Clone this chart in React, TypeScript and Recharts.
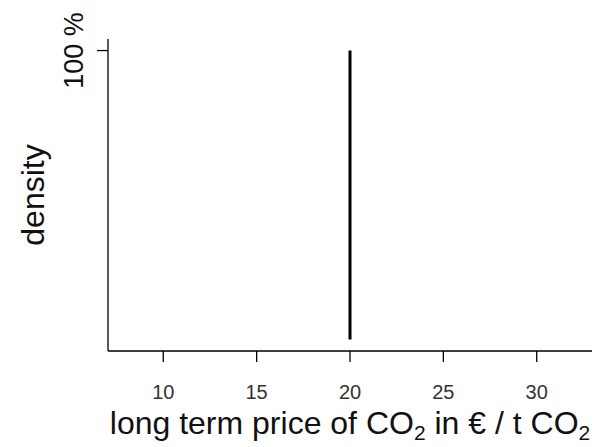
import { LineChart, Line, XAxis, YAxis } from 'recharts';

// price of CO2 (x) vs density (y): a single point mass at 20 EUR
const priceValues = [20, 20];
const densityValues = [0, 1];
const xTicks = [10, 15, 20, 25, 30];
const yTicks = [1];
const yTickLabels = ['100 %'];

const data = priceValues.map((p, i) => ({ price: p, density: densityValues[i] }));

const font = '"Liberation Sans", Arial, sans-serif';

const YTick = (props: any) => {
  const { x, y, index } = props;
  return (
    <text
      x={x - 12}
      y={y}
      transform={`rotate(-90, ${x - 12}, ${y})`}
      textAnchor="middle"
      fontFamily={font}
      fontSize={27}
      fill="#111"
    >
      {yTickLabels[index]}
    </text>
  );
};

const XTick = (props: any) => {
  const { x, y, payload } = props;
  return (
    <text x={x} y={y + 35} textAnchor="middle" fontFamily={font} fontSize={20} fill="#333">
      {payload.value}
    </text>
  );
};

const XLabel = (props: any) => {
  const vb = props.viewBox;
  const cx = vb.x + vb.width / 2;
  return (
    <text x={cx} y={434} textAnchor="middle" fontFamily={font} fontSize={32} fill="#111">
      long term price of CO<tspan fontSize={21} dy={6}>2</tspan>
      <tspan dy={-6}> in € / t CO</tspan>
      <tspan fontSize={21} dy={6}>2</tspan>
    </text>
  );
};

const YLabel = (props: any) => {
  const vb = props.viewBox;
  const cy = vb.y + vb.height / 2;
  return (
    <text
      x={44}
      y={cy}
      transform={`rotate(-90, 44, ${cy})`}
      textAnchor="middle"
      fontFamily={font}
      fontSize={32}
      fill="#111"
    >
      density
    </text>
  );
};

export default function App() {
  return (
    <div style={{ position: 'absolute', left: 0, top: 0, background: '#fff' }}>
      <LineChart width={597} height={447} data={data} margin={{ top: 39, right: 5, bottom: 0, left: 0 }}>
        <XAxis
          dataKey="price"
          type="number"
          domain={[7.04, 32.96]}
          ticks={xTicks}
          allowDataOverflow
          height={96}
          axisLine={{ stroke: '#000', strokeWidth: 1.3 }}
          tickLine={{ stroke: '#000', strokeWidth: 1.3 }}
          tickSize={11}
          tick={<XTick />}
          label={<XLabel />}
        />
        <YAxis
          dataKey="density"
          type="number"
          domain={[-0.04, 1.04]}
          ticks={yTicks}
          allowDataOverflow
          width={108}
          axisLine={{ stroke: '#000', strokeWidth: 1.3 }}
          tickLine={{ stroke: '#000', strokeWidth: 1.3 }}
          tickSize={11}
          tick={<YTick />}
          label={<YLabel />}
        />
        <Line
          dataKey="density"
          stroke="#000"
          strokeWidth={3}
          dot={false}
          isAnimationActive={false}
        />
      </LineChart>
    </div>
  );
}
